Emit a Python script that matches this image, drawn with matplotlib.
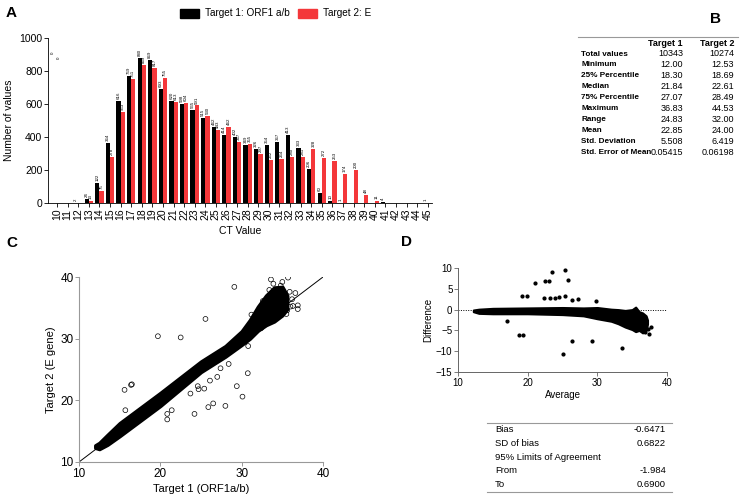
import matplotlib
matplotlib.use("Agg")
import matplotlib.pyplot as plt
from matplotlib.patches import Rectangle
import numpy as np

plt.rcParams['font.family'] = ['Liberation Sans', 'DejaVu Sans']

# ---------------- data ----------------
ct_values = list(range(10, 46))
target1_counts = [0, 0, 2, 24, 122, 364, 616, 769, 880, 869, 693, 620, 598, 565, 515, 462,
                  414, 402, 349, 326, 354, 367, 413, 333, 206, 60, 10, 1, 0, 0, 0, 4, 0, 0, 0, 1]
target2_counts = [0, 0, 0, 13, 75, 278, 553, 751, 839, 817, 755, 613, 604, 591, 530, 443,
                  462, 367, 355, 297, 262, 264, 280, 281, 328, 272, 253, 174, 200, 48, 11, 0, 0, 0, 0, 0]

stat_rows = ["Total values", "Minimum", "25% Percentile", "Median", "75% Percentile",
             "Maximum", "Range", "Mean", "Std. Deviation", "Std. Error of Mean"]
stat_t1 = ["10343", "12.00", "18.30", "21.84", "27.07", "36.83", "24.83", "22.85", "5.508", "0.05415"]
stat_t2 = ["10274", "12.53", "18.69", "22.61", "28.49", "44.53", "32.00", "24.00", "6.419", "0.06198"]

# Panel C: dense band edges and sparse points
band_c_x = [12.0, 12.5, 13.5, 15.0, 20.0, 25.0, 28.0, 30.0, 31.0, 32.0, 33.0, 34.0, 35.0, 35.6]
band_c_lo = [12.3, 12.1, 12.8, 14.2, 19.1, 24.6, 27.1, 29.0, 30.0, 31.3, 32.2, 32.8, 33.8, 34.8]
band_c_hi = [12.7, 13.1, 14.4, 16.3, 21.2, 26.3, 28.8, 31.2, 33.0, 35.2, 37.0, 38.3, 38.4, 37.0]
scatter_c_x = [29.1, 25.55, 19.7, 22.5, 15.6, 16.4, 16.5, 15.7, 28.4, 27.4, 27.0, 26.1, 24.6, 23.7,
               24.7, 25.4, 29.4, 30.75, 30.1, 30.8, 24.2, 25.9, 26.5, 28.0, 20.85, 20.85, 21.4,
               36.9, 36.9, 36.3, 35.9, 35.7, 35.0, 33.6, 35.5, 34.3, 33.2, 32.4, 31.7, 36.2, 35.3,
               34.8, 33.9, 34.9, 36.0, 35.6, 34.2, 33.0, 36.6, 35.1, 34.5, 33.4, 32.6, 31.2]
scatter_c_y = [38.4, 33.2, 30.4, 30.2, 21.7, 22.5, 22.6, 18.4, 25.9, 25.2, 23.8, 23.2, 22.3, 21.1,
               21.8, 21.9, 22.3, 24.4, 20.6, 28.8, 17.8, 18.9, 19.5, 19.1, 16.9, 17.8, 18.4,
               34.8, 35.4, 35.3, 37.6, 39.9, 39.2, 39.6, 34.0, 33.5, 33.4, 31.7, 31.6, 36.4, 36.9,
               38.6, 38.9, 37.8, 35.2, 34.6, 34.2, 32.8, 37.4, 36.2, 37.2, 37.9, 36.1, 33.9]

# Panel D: dense band edges and sparse points
band_d_x = [12.2, 13.0, 15.0, 20.0, 25.0, 28.0, 30.0, 32.0, 33.0, 34.0, 35.0, 35.5, 36.0, 36.5, 37.0, 37.2]
band_d_lo = [-0.5, -0.9, -1.0, -1.0, -1.2, -1.5, -2.2, -2.8, -3.4, -4.2, -4.8, -5.3, -5.0, -5.6, -5.0, -3.5]
band_d_hi = [-0.1, 0.1, 0.3, 0.4, 0.5, 0.4, 0.5, 0.1, 0.0, -0.2, 0.0, 0.6, -0.5, -0.8, -1.5, -2.5]
scatter_d_x = [25.4, 23.5, 25.8, 22.5, 23.1, 21.0, 19.2, 19.9, 22.3, 23.2, 23.9, 24.5, 25.3,
               26.3, 27.2, 29.8, 17.1, 18.7, 19.4, 26.3, 29.3, 25.1, 33.6, 37.75, 37.3, 37.4, 36.5, 36.9]
scatter_d_y = [9.44, 9.0, 7.2, 6.9, 6.9, 6.5, 3.3, 3.2, 2.7, 2.9, 2.9, 3.0, 3.35,
               2.4, 2.5, 2.1, -2.7, -6.1, -6.1, -7.6, -7.5, -10.75, -9.2, -4.2, -4.7, -5.9, -4.7, -5.4]

ba_labels = ["Bias", "SD of bias", "95% Limits of Agreement", "From", "To"]
ba_values = ["-0.6471", "0.6822", "", "-1.984", "0.6900"]

RED = "#f4373a"

fig = plt.figure(figsize=(7.4, 5.0), dpi=100)
W, H = 740.0, 500.0

def fx(px):
    return px / W

def fy(py):
    return 1 - py / H

# ---------------- Panel A ----------------
axA = fig.add_axes([fx(48), fy(203), fx(432 - 48), (203 - 38) / H])
x = np.array(ct_values)
bw = 0.4
axA.bar(x - bw / 2, target1_counts, width=bw, color="black")
axA.bar(x + bw / 2, target2_counts, width=bw, color=RED)
for xi, v in zip(x, target1_counts):
    if v > 0:
        axA.text(xi - bw / 2, v + 12, str(v), rotation=90, ha="center", va="bottom", fontsize=3.2)
for xi, v in zip(x, target2_counts):
    if v > 0:
        axA.text(xi + bw / 2, v + 12, str(v), rotation=90, ha="center", va="bottom", fontsize=3.2)
axA.text(9.6, 905, "0", rotation=90, fontsize=3.2, ha="center", va="bottom")
axA.text(10.2, 870, "0", rotation=90, fontsize=3.2, ha="center", va="bottom")
axA.set_xlim(9.15, 45.4)
axA.set_ylim(0, 1000)
axA.set_xticks(ct_values)
axA.set_xticklabels([str(c) for c in ct_values], rotation=90, fontsize=7.5)
axA.set_yticks([0, 200, 400, 600, 800, 1000])
axA.tick_params(axis="y", labelsize=7.5, length=3, width=0.6, pad=1)
axA.tick_params(axis="x", length=3, width=0.6, pad=1)
for s in ["top", "right"]:
    axA.spines[s].set_visible(False)
for s in ["left", "bottom"]:
    axA.spines[s].set_linewidth(0.6)
axA.set_ylabel("Number of values", fontsize=7.5, labelpad=4)
axA.set_xlabel("CT Value", fontsize=7.5, labelpad=4)

# legend
fig.patches.append(Rectangle((fx(180), fy(18)), fx(19), 9 / H, transform=fig.transFigure,
                             color="black", figure=fig))
fig.text(fx(205), fy(13.5), "Target 1: ORF1 a/b", fontsize=7.2, va="center")
fig.patches.append(Rectangle((fx(298), fy(18)), fx(19), 9 / H, transform=fig.transFigure,
                             color=RED, figure=fig))
fig.text(fx(323), fy(13.5), "Target 2: E", fontsize=7.2, va="center")

# panel letters
fig.text(fx(6), fy(13), "A", fontsize=11, fontweight="bold", va="center")
fig.text(fx(710), fy(19), "B", fontsize=11, fontweight="bold", va="center")
fig.text(fx(6), fy(243), "C", fontsize=11, fontweight="bold", va="center")
fig.text(fx(401), fy(242), "D", fontsize=11, fontweight="bold", va="center")

# ---------------- Panel B (table) ----------------
fig.add_artist(plt.Line2D([fx(578), fx(738)], [fy(37), fy(37)], transform=fig.transFigure,
                          color="#999999", lw=0.8))
fig.text(fx(683), fy(44), "Target 1", fontsize=6.5, fontweight="bold", ha="right", va="center")
fig.text(fx(735), fy(44), "Target 2", fontsize=6.5, fontweight="bold", ha="right", va="center")
for i, (lab, a, b) in enumerate(zip(stat_rows, stat_t1, stat_t2)):
    yy = fy(54 + i * 10.9)
    fig.text(fx(581), yy, lab, fontsize=5.9, fontweight="bold", va="center")
    fig.text(fx(683), yy, a, fontsize=6.5, ha="right", va="center")
    fig.text(fx(734), yy, b, fontsize=6.5, ha="right", va="center")

# ---------------- Panel C ----------------
axC = fig.add_axes([fx(79), fy(462), fx(323 - 79), (462 - 277) / H])
axC.plot([10, 40], [10, 40], color="black", lw=0.7, zorder=1)
axC.fill_between(band_c_x, band_c_lo, band_c_hi, color="black", lw=2.5, edgecolor="black",
                 joinstyle="round", capstyle="round", zorder=2)
axC.scatter(scatter_c_x, scatter_c_y, s=12, facecolors="none", edgecolors="black", linewidths=0.5, zorder=3)
axC.set_xlim(10, 40)
axC.set_ylim(10, 40)
axC.set_xticks([10, 20, 30, 40])
axC.set_yticks([10, 20, 30, 40])
axC.tick_params(labelsize=8.5, length=3, width=0.6, pad=1, color="#888888")
for s in ["top", "right"]:
    axC.spines[s].set_visible(False)
for s in ["left", "bottom"]:
    axC.spines[s].set_linewidth(0.8)
    axC.spines[s].set_color("#999999")
axC.set_xlabel("Target 1 (ORF1a/b)", fontsize=8, labelpad=3)
axC.set_ylabel("Target 2 (E gene)", fontsize=8, labelpad=3)

# ---------------- Panel D ----------------
axD = fig.add_axes([fx(458), fy(372), fx(667 - 458), (372 - 268) / H])
axD.plot([10, 40], [0, 0], color="black", lw=0.7, ls=(0, (1, 1.5)), zorder=1)
axD.fill_between(band_d_x, band_d_lo, band_d_hi, color="black", lw=1.5, edgecolor="black",
                 joinstyle="round", capstyle="round", zorder=2)
axD.scatter(scatter_d_x, scatter_d_y, s=4, color="black", zorder=3)
axD.set_xlim(10, 40)
axD.set_ylim(-15, 10)
axD.set_xticks([10, 20, 30, 40])
axD.set_yticks([-15, -10, -5, 0, 5, 10])
axD.tick_params(labelsize=7, length=3, width=0.6, pad=1, color="#666666")
for s in ["top", "right"]:
    axD.spines[s].set_visible(False)
for s in ["left", "bottom"]:
    axD.spines[s].set_linewidth(0.7)
    axD.spines[s].set_color("#666666")
axD.set_xlabel("Average", fontsize=7, labelpad=2)
axD.set_ylabel("Difference", fontsize=7, labelpad=2)

# Bland-Altman table
fig.add_artist(plt.Line2D([fx(487), fx(672)], [fy(423), fy(423)], transform=fig.transFigure,
                          color="#999999", lw=0.8))
fig.add_artist(plt.Line2D([fx(487), fx(672)], [fy(492), fy(492)], transform=fig.transFigure,
                          color="#999999", lw=0.8))
for i, (lab, val) in enumerate(zip(ba_labels, ba_values)):
    yy = fy(430 + i * 13.6)
    fig.text(fx(495), yy, lab, fontsize=6.8, va="center")
    if val:
        fig.text(fx(666), yy, val, fontsize=6.8, ha="right", va="center")

fig.savefig("out.png", dpi=100)
